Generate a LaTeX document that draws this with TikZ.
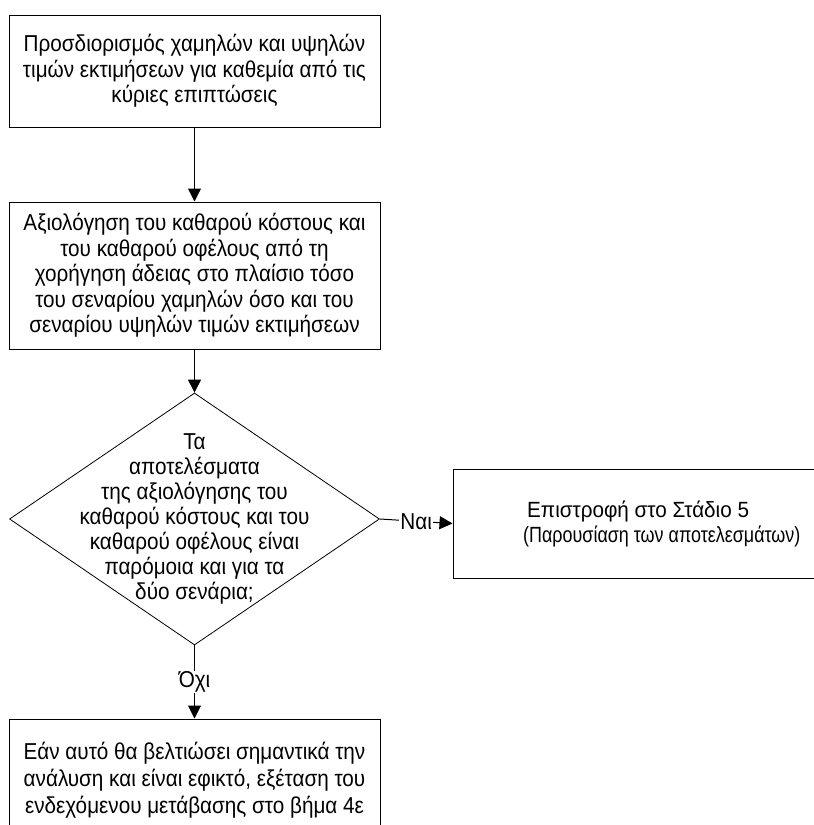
\documentclass[tikz,border=0pt]{standalone}
\usepackage{fontspec}
\setmainfont[FakeStretch=0.9]{Liberation Sans}
\newfontfamily\rboxfontA[FakeStretch=0.94]{Liberation Sans}
\newfontfamily\rboxfontB[FakeStretch=0.815]{Liberation Sans}
\usetikzlibrary{shapes.geometric,arrows.meta}
\begin{document}
\begin{tikzpicture}[x=1pt,y=-1pt,
  every node/.style={font=\fontsize{23}{25.5}\selectfont},
  procbox/.style={draw=black,line width=1pt,rectangle,inner sep=0pt,align=center},
  decision/.style={draw=black,line width=0.8pt,diamond,inner sep=0pt},
  conn/.style={line width=1pt,-{Triangle[length=13pt,width=13pt]}},
  lbl/.style={fill=white,inner sep=1pt}]
\useasboundingbox (0,0) rectangle (814,825);
\clip (0,0) rectangle (814,825);
\node[procbox,minimum width=371pt,minimum height=112pt] (b1) at (194.5,71)
  {Προσδιορισμός χαμηλών και υψηλών\\τιμών εκτιμήσεων για καθεμία από τις\\κύριες επιπτώσεις};
\node[procbox,minimum width=371pt,minimum height=147pt] (b2) at (194.5,275.5)
  {Αξιολόγηση του καθαρού κόστους και\\του καθαρού οφέλους από τη\\χορήγηση άδειας στο πλαίσιο τόσο\\του σεναρίου χαμηλών όσο και του\\σεναρίου υψηλών τιμών εκτιμήσεων};
\node[decision,minimum width=370pt,minimum height=252pt] (d) at (194.5,519) {};
\node[align=center,inner sep=0pt,font=\fontsize{23}{25}\selectfont] (dt) at (d.center)
  {Τα\\αποτελέσματα\\της αξιολόγησης του\\καθαρού κόστους και του\\καθαρού οφέλους είναι\\παρόμοια και για τα\\δύο σενάρια;};
\node[procbox,minimum width=416pt,minimum height=109pt] (r) at (661,523.5) {};
\node[align=left,inner sep=0pt,anchor=west,font=\fontsize{22}{25}\selectfont] (rt) at (523,523.5)
  {\hspace*{4pt}{\rboxfontA Επιστροφή στο Στάδιο 5}\\{\rboxfontB (Παρουσίαση των αποτελεσμάτων)}};
\node[procbox,minimum width=371pt,minimum height=122pt,font=\fontsize{23}{27}\selectfont] (b4) at (194.5,780)
  {Εάν αυτό θα βελτιώσει σημαντικά την\\ανάλυση και είναι εφικτό, εξέταση του\\ενδεχόμενου μετάβασης στο βήμα 4ε};
\draw[conn] (b1.south) -- (b2.north);
\draw[conn] (b2.south) -- (d.north);
\draw[conn] (d.east) -- node[lbl] (yes) {Ναι} (r.west);
\draw[conn] (d.south) -- node[lbl] (no) {Όχι} (b4.north);
\end{tikzpicture}
\end{document}
